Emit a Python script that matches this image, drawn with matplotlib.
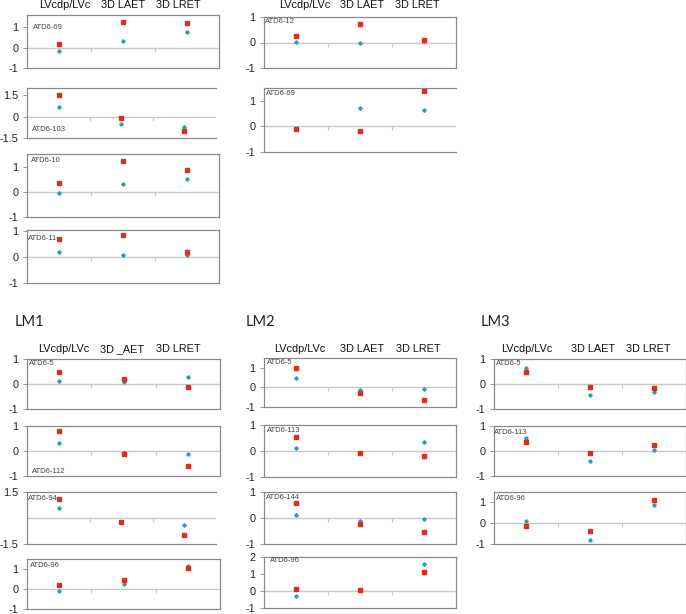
"""Painéis de dispersão por espécime (ATD6-*) para LVcdp/LVc, 3D LAET e 3D LRET."""

import matplotlib

matplotlib.use("Agg")
import matplotlib.pyplot as plt  # noqa: E402
import numpy as np  # noqa: E402

W, H = 686, 614
plt.rcParams["font.family"] = ["Liberation Sans", "DejaVu Sans"]
plt.rcParams["axes.unicode_minus"] = False

categories = ["LVcdp/LVc", "3D LAET", "3D LRET"]
categories_lm1 = ["LVcdp/LVc", "3D _AET", "3D LRET"]
section_titles = ["LM1", "LM2", "LM3"]

# quadrados vermelhos / pontos azuis, um par por painel
a1_red, a1_teal = [0.18, 1.27, 1.22], [-0.15, 0.34, 0.77]
a2_red, a2_teal = [1.52, -0.12, -0.98], [0.65, -0.50, -0.71]
a3_red, a3_teal = [0.34, 1.24, 0.85], [-0.05, 0.31, 0.51]
a4_red, a4_teal = [0.70, 0.87, 0.18], [0.18, 0.10, 0.08]
b1_red, b1_teal = [0.25, 0.74, 0.10], [0.02, 0.00, 0.06]
b2_red, b2_teal = [-0.10, -0.17, 1.37], [-0.10, 0.70, 0.64]
c1_red, c1_teal = [0.48, 0.21, -0.11], [0.11, 0.07, 0.27]
c2_red, c2_teal = [0.80, -0.12, -0.58], [0.32, -0.09, -0.12]
c3_red, c3_teal = [1.08, -0.21, -0.96], [0.55, -0.21, -0.43]
c4_red, c4_teal = [0.20, 0.44, 1.06], [-0.10, 0.26, 1.17]
d1_red, d1_teal = [0.98, -0.28, -0.64], [0.47, -0.14, -0.10]
d2_red, d2_teal = [0.55, -0.08, -0.19], [0.11, -0.08, 0.33]
d3_red, d3_teal = [0.58, -0.22, -0.53], [0.13, -0.13, -0.03]
d4_red, d4_teal = [0.12, 0.08, 1.12], [-0.27, 0.08, 1.60]
e1_red, e1_teal = [0.50, -0.10, -0.17], [0.64, -0.44, -0.30]
e2_red, e2_teal = [0.37, -0.09, 0.25], [0.52, -0.40, 0.04]
e3_red, e3_teal = [-0.13, -0.38, 1.12], [0.10, -0.79, 0.87]

RED = "#d7301f"
TEAL = "#2a9fb8"
FRAME = "#8a8a8a"
ZERO = "#c8c8c8"

# (rótulo, vermelho, azul, caixa px (esq, topo, dir, base), ylim, yticks,
#  canto do rótulo, deslocamento px, esconder direita)
panels = [
    ("ATD6-69", a1_red, a1_teal, (27, 15, 219, 68), (-1, 1.6), [-1, 0, 1], "top", (6, 9), False),
    ("ATD6-103", a2_red, a2_teal, (27, 88, 216, 138), (-1.5, 2), [-1.5, 0, 1.5], "bottom", (5, 5), True),
    ("ATD6-10", a3_red, a3_teal, (27, 154, 219, 217), (-1, 1.5), [-1, 0, 1], "top", (4, 3), False),
    ("ATD6-11", a4_red, a4_teal, (27, 230, 219, 283), (-1, 1.05), [-1, 0, 1], "top", (1, 5), False),
    ("ATD6-12", b1_red, b1_teal, (264, 17, 456, 68), (-1, 1), [-1, 0, 1], "top", (1, 1), False),
    ("ATD6-69", b2_red, b2_teal, (264, 88, 456, 152), (-1, 1.5), [-1, 0, 1], "top", (2, 2), True),
    ("ATD6-5", c1_red, c1_teal, (27, 359, 220, 409), (-1, 1), [-1, 0, 1], "top", (2, 1), False),
    ("ATD6-112", c2_red, c2_teal, (27, 426, 220, 476), (-1, 1), [-1, 0, 1], "bottom", (5, 1), False),
    ("ATD6-94", c3_red, c3_teal, (27, 492, 216, 544), (-1.5, 1.5), [-1.5, 1.5], "top", (1, 3), True),
    ("ATD6-96", c4_red, c4_teal, (27, 559, 220, 609), (-1, 1.5), [-1, 0, 1], "top", (3, 3), False),
    ("ATD6-5", d1_red, d1_teal, (264, 358, 456, 407), (-1, 1.5), [-1, 0, 1], "top", (3, 1), False),
    ("ATD6-113", d2_red, d2_teal, (264, 425, 456, 477), (-1, 1), [-1, 0, 1], "top", (3, 2), False),
    ("ATD6-144", d3_red, d3_teal, (264, 492, 456, 544), (-1, 1), [-1, 0, 1], "top", (2, 2), False),
    ("ATD6-96", d4_red, d4_teal, (264, 557, 456, 608), (-1, 2), [-1, 0, 1, 2], "top", (6, 0), False),
    ("ATD6-5", e1_red, e1_teal, (494, 359, 686, 409), (-1, 1), [-1, 0, 1], "top", (2, 1), False),
    ("ATD6-113", e2_red, e2_teal, (494, 426, 686, 476), (-1, 1), [-1, 0, 1], "top", (0, 3), False),
    ("ATD6-96", e3_red, e3_teal, (494, 492, 686, 544), (-1, 1.5), [-1, 0, 1], "top", (2, 3), False),
]

fig = plt.figure(figsize=(W / 100, H / 100), dpi=100)
x = np.arange(len(categories))

for label, red, teal, box, ylim, yticks, corner, off, no_right in panels:
    l, t, r, b = box
    ax = fig.add_axes([l / W, 1 - b / H, (r - l) / W, (b - t) / H])
    ax.axhline(0, color=ZERO, lw=1.0, zorder=1)
    ax.plot(x[:-1] + 0.5, np.zeros(len(x) - 1), ls="none", marker=3,
            ms=3, mec=ZERO, mew=0.8, zorder=1)
    ax.plot(x, teal, ls="none", marker="D", ms=1.8, color=TEAL, zorder=3)
    ax.plot(x, red, ls="none", marker="s", ms=3.2, color=RED, zorder=4)
    ax.set_xlim(-0.5, len(categories) - 0.5)
    ax.set_ylim(*ylim)
    ax.set_xticks([])
    ax.set_yticks(yticks)
    ax.set_yticklabels([f"{v:g}" for v in yticks])
    ax.tick_params(axis="y", length=3, width=0.6, color=FRAME, pad=3,
                   labelsize=7.8, labelcolor="#222222")
    for sp in ax.spines.values():
        sp.set_color(FRAME)
        sp.set_linewidth(0.9)
    if no_right:
        ax.spines["right"].set_visible(False)
    if corner == "top":
        ax.annotate(label, xy=(0, 1), xycoords="axes fraction",
                    xytext=(off[0], -off[1]), textcoords="offset pixels",
                    ha="left", va="top", fontsize=5.5, color="#444444")
    else:
        ax.annotate(label, xy=(0, 0), xycoords="axes fraction",
                    xytext=(off[0], off[1]), textcoords="offset pixels",
                    ha="left", va="bottom", fontsize=5.5, color="#444444")

# cabeçalhos das colunas
headers = [
    (categories, 27, 5, [38, 96, 151]),
    (categories, 264, 5, [41, 98, 153]),
    (categories_lm1, 27, 349, [37, 95, 151]),
    (categories, 264, 349, [36, 98, 154]),
    (categories, 494, 349, [33, 99, 154]),
]
for names, left, yc, offs in headers:
    for name, dx in zip(names, offs):
        fig.text((left + dx) / W, 1 - yc / H, name, ha="center", va="center",
                 fontsize=7.8, color="#111111")

for title, xl in zip(section_titles, [15, 246, 481]):
    fig.text(xl / W, 1 - 322 / H, title, ha="left", va="center",
             fontsize=10.5, family=["Lato", "DejaVu Sans"], color="#222222")

fig.savefig("out.png", dpi=100)
plt.close(fig)
